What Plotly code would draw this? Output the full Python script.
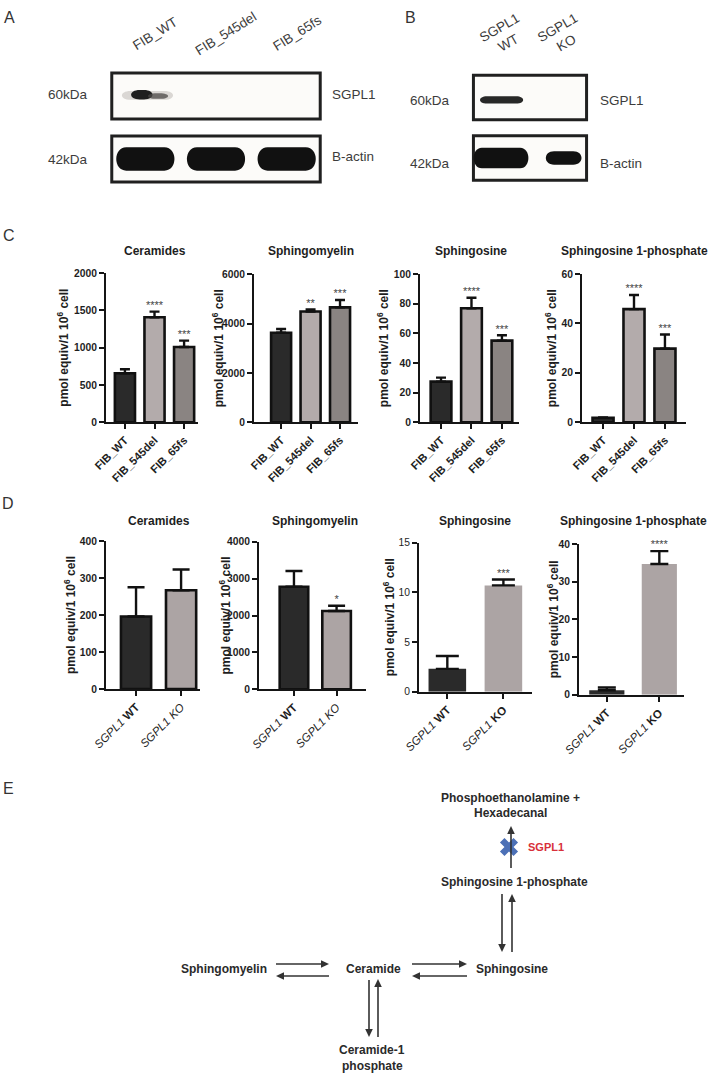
import plotly.graph_objects as go

W, H = 716, 1074

# ------------------------------------------------------------------ data
fib_lines = ["FIB_WT", "FIB_545del", "FIB_65fs"]
ko_lines = ["SGPL1 WT", "SGPL1 KO"]
lipids = ["Ceramides", "Sphingomyelin", "Sphingosine", "Sphingosine 1-phosphate"]

fib_ceramides = [657, 1407, 1009]
fib_ceramides_sem = [53, 76, 85]
fib_sphingomyelin = [3630, 4490, 4660]
fib_sphingomyelin_sem = [150, 90, 300]
fib_sphingosine = [27.4, 76.9, 55.1]
fib_sphingosine_sem = [2.7, 7.1, 3.6]
fib_s1p = [1.8, 45.8, 29.8]
fib_s1p_sem = [0.2, 5.7, 5.7]
fib_sig = [["", "****", "***"], ["", "**", "***"], ["", "****", "***"], ["", "****", "***"]]

ko_ceramides = [196, 267]
ko_ceramides_sem = [79, 56]
ko_sphingomyelin = [2780, 2120]
ko_sphingomyelin_sem = [425, 145]
ko_sphingosine = [2.3, 10.7]
ko_sphingosine_sem = [1.3, 0.6]
ko_s1p = [1.2, 34.7]
ko_s1p_sem = [0.7, 3.4]
ko_sig = [["", ""], ["", "*"], ["", "***"], ["", "****"]]

fib_ymax = [2000, 6000, 100, 60]
fib_dtick = [500, 2000, 20, 20]
ko_ymax = [400, 4000, 15, 40]
ko_dtick = [100, 1000, 5, 10]

blot_a_lanes = ["FIB_WT", "FIB_545del", "FIB_65fs"]
blot_a_sgpl1 = [1.0, 0.0, 0.0]
blot_a_actin = [1.0, 1.0, 1.0]
blot_b_lanes = ["SGPL1<br>WT", "SGPL1<br>KO"]
blot_b_sgpl1 = [1.0, 0.0]
blot_b_actin = [1.0, 0.65]

# ------------------------------------------------------------------ styles / layout geometry
FONT = "Liberation Sans, Arial, sans-serif"
INK = "#1e1e1e"
fib_colors = ["#2a2a2a", "#b3abab", "#8a8482"]
ko_colors = ["#2a2a2a", "#aca4a4"]


def sfx(i):
    return "" if i == 1 else str(i)


def dx(a, b):
    return [a / W, b / W]


def dy(top, bottom):
    return [1 - bottom / H, 1 - top / H]


# (x-left px, x-right px, y-top px, y-bottom px, x-range, ytitle-x px, title-y px)
c_geom = [
    (106, 198, 273, 422.3, (-0.64, 2.47), 63, 251),
    (254, 358, 274.3, 422.3, (-0.92, 2.61), 218, 251),
    (420, 519, 274, 422.3, (-0.69, 2.56), 383, 251),
    (582, 686, 274, 422.3, (-0.68, 2.68), 551, 251),
]
d_geom = [
    (106, 200, 541, 689, (-0.667, 1.42), 70, 521),
    (259, 366, 541.7, 689.3, (-0.82, 1.69), 224, 521),
    (419, 532, 542.7, 691.7, (-0.505, 1.51), 389, 521),
    (579, 684, 544, 694.7, (-0.53, 1.47), 553, 521),
]

ko_ticktext = [
    ["<i>SGPL1</i> <b>WT</b>", "<i>SGPL1 KO</i>"],
    ["<i>SGPL1</i> <b>WT</b>", "<i>SGPL1 KO</i>"],
    ["<i>SGPL1</i> <b>WT</b>", "<i>SGPL1</i> <b>KO</b>"],
    ["<i>SGPL1</i> <b>WT</b>", "<i>SGPL1</i> <b>KO</b>"],
]

panels = []
fib_vals = [fib_ceramides, fib_sphingomyelin, fib_sphingosine, fib_s1p]
fib_sems = [fib_ceramides_sem, fib_sphingomyelin_sem, fib_sphingosine_sem, fib_s1p_sem]
for k in range(4):
    panels.append(dict(vals=fib_vals[k], sem=fib_sems[k], sig=fib_sig[k], title=lipids[k],
                       ticktext=fib_lines, colors=fib_colors, ymax=fib_ymax[k], dtick=fib_dtick[k],
                       geom=c_geom[k], bw=0.68, lw=2.6, cap=5, xbold=True, ybold=True, xsize=11.2))
ko_vals = [ko_ceramides, ko_sphingomyelin, ko_sphingosine, ko_s1p]
ko_sems = [ko_ceramides_sem, ko_sphingomyelin_sem, ko_sphingosine_sem, ko_s1p_sem]
ko_caps = [8.5, 8.5, 11.5, 9]
for k in range(4):
    panels.append(dict(vals=ko_vals[k], sem=ko_sems[k], sig=ko_sig[k], title=lipids[k],
                       ticktext=ko_ticktext[k], colors=ko_colors, ymax=ko_ymax[k], dtick=ko_dtick[k],
                       geom=d_geom[k], bw=0.67, lw=2.6 if k < 2 else 0, cap=ko_caps[k],
                       xbold=False, ybold=(k != 2), xsize=11.5))

fig = go.Figure()
annotations = []
shapes = []
layout = dict(template="none", width=W, height=H, autosize=False,
              margin=dict(l=0, r=0, t=0, b=0, pad=0),
              paper_bgcolor="white", plot_bgcolor="rgba(0,0,0,0)",
              showlegend=False, font=dict(family=FONT, color=INK))

OV = "11"  # overlay pixel axis id
for i, p in enumerate(panels, start=1):
    s = sfx(i)
    x0, x1, yt, yb, xr, ytx, tty = p["geom"]
    n = len(p["vals"])
    xs = list(range(n))
    fig.add_trace(go.Bar(
        x=xs, y=p["vals"], width=p["bw"],
        marker=dict(color=p["colors"], line=dict(color="#111111", width=p["lw"])),
        error_y=dict(type="data", symmetric=False, array=p["sem"], arrayminus=[0] * n,
                     color="#111111", thickness=2.4, width=p["cap"]),
        xaxis="x" + s, yaxis="y" + s, hoverinfo="skip"))
    sx = [x for x, t in zip(xs, p["sig"]) if t]
    sy = [v + e for v, e, t in zip(p["vals"], p["sem"], p["sig"]) if t]
    st = [t for t in p["sig"] if t]
    if st:
        fig.add_trace(go.Scatter(
            x=sx, y=sy, mode="text", text=st,
            textposition="top center", textfont=dict(size=11, color="#444444", family=FONT),
            cliponaxis=False, xaxis="x" + s, yaxis="y" + s, hoverinfo="skip"))
    axcommon = dict(showline=True, linewidth=2, linecolor="#151515", ticks="outside",
                    ticklen=5, tickwidth=2, tickcolor="#151515", showgrid=False,
                    zeroline=False, fixedrange=True, automargin=False)
    layout["xaxis" + s] = dict(domain=dx(x0, x1), range=list(xr), anchor="y" + s,
                               tickmode="array", tickvals=xs, ticktext=p["ticktext"],
                               tickangle=-45,
                               tickfont=dict(size=p["xsize"], family=FONT, color=INK,
                                             weight="bold" if p["xbold"] else "normal"),
                               **axcommon)
    layout["yaxis" + s] = dict(domain=dy(yt, yb), range=[0, p["ymax"]], anchor="x" + s,
                               tickmode="linear", tick0=0, dtick=p["dtick"],
                               tickfont=dict(size=10.3, family=FONT, color=INK,
                                             weight="bold" if p["ybold"] else "normal"),
                               **axcommon)
    annotations.append(dict(text=f"<b>{p['title']}</b>", xref="x" + s, x=(n - 1) / 2,
                            yref="y" + OV, y=tty, showarrow=False,
                            font=dict(size=12, family=FONT, color=INK)))
    annotations.append(dict(text="<b>pmol equiv/1 10<sup>6</sup> cell</b>", textangle=-90,
                            xref="x" + OV, x=ytx, yref="y" + s + " domain", y=0.5,
                            showarrow=False, font=dict(size=12, family=FONT, color=INK)))

# ------------------------------------------------------------------ western blots (A: axis 9, B: axis 10)
hidden = dict(visible=False, fixedrange=True, automargin=False, showgrid=False, zeroline=False)
layout["xaxis9"] = dict(domain=dx(104, 328), range=[-0.085, 3.085], anchor="y9", **hidden)
layout["yaxis9"] = dict(domain=dy(66, 188), range=[-0.460, 1.476], anchor="x9", **hidden)
layout["xaxis10"] = dict(domain=dx(466, 594), range=[-0.103, 2.103], anchor="y10", **hidden)
layout["yaxis10"] = dict(domain=dy(69, 187), range=[-0.479, 1.471], anchor="x10", **hidden)


def stadium(xc, yc, hw, hh, rx):
    xa, xb, ya, yb_ = xc - hw, xc + hw, yc - hh, yc + hh
    k = 0.35 * rx
    return (f"M{xa + rx},{ya} L{xb - rx},{ya} C{xb + k},{ya} {xb + k},{yb_} {xb - rx},{yb_} "
            f"L{xa + rx},{yb_} C{xa - k},{yb_} {xa - k},{ya} {xa + rx},{ya} Z")


def blot(ax, nl, sg, ac, box_h, act_hw, act_hh, sg_style):
    xr, yr = f"x{ax}", f"y{ax}"
    for row in (0, 1):
        shapes.append(dict(type="rect", xref=xr, yref=yr, x0=0.025, x1=nl - 0.025,
                           y0=row - box_h, y1=row + box_h, fillcolor="#fcfbf9",
                           line=dict(color="#202020", width=3), layer="below"))
    for lane, inten in enumerate(ac):
        if inten > 0:
            shapes.append(dict(type="path", xref=xr, yref=yr,
                               path=stadium(lane + 0.5 + (0.08 if inten < 1 else 0), 0,
                                            act_hw * inten, act_hh * inten, 0.14),
                               fillcolor="#111111", line=dict(width=0)))
    for lane, inten in enumerate(sg):
        if inten > 0.5:
            for (cx, hw, cy, hh, col, op) in sg_style:
                shapes.append(dict(type="path", xref=xr, yref=yr,
                                   path=stadium(lane + cx, cy, hw, hh, min(hw, 0.12)),
                                   fillcolor=col, opacity=op, line=dict(width=0)))


blot(9, len(blot_a_lanes), blot_a_sgpl1, blot_a_actin, 0.365, 0.41, 0.185,
     [(0.53, 0.36, 1.01, 0.07, "#9a9590", 0.35),
      (0.45, 0.15, 1.02, 0.075, "#151515", 0.95),
      (0.68, 0.14, 1.0, 0.045, "#4a4746", 0.75)])
blot(10, len(blot_b_lanes), blot_b_sgpl1, blot_b_actin, 0.368, 0.47, 0.17,
     [(0.51, 0.37, 0.96, 0.06, "#1c1c1c", 0.95)])

blot_font = dict(size=13.5, family=FONT, color="#3c3c3c")
for j, lab in enumerate(blot_a_lanes):
    annotations.append(dict(text=lab, xref="x9", x=j + 0.64, yref="y" + OV, y=33,
                            textangle=-32, showarrow=False, font=blot_font))
for j, lab in enumerate(blot_b_lanes):
    annotations.append(dict(text=lab, xref="x10", x=j + 0.55, yref="y" + OV, y=35,
                            textangle=-30, showarrow=False, font=blot_font, align="center"))
for (txt, x, y, anchor) in [("60kDa", 68, 94, "center"), ("42kDa", 68, 159, "center"),
                            ("SGPL1", 330, 94, "left"), ("B-actin", 330, 156, "left"),
                            ("60kDa", 430, 100, "center"), ("42kDa", 430, 163, "center"),
                            ("SGPL1", 598, 100, "left"), ("B-actin", 598, 163, "left")]:
    annotations.append(dict(text=txt, xref="x" + OV, yref="y" + OV, x=x, y=y, xanchor=anchor,
                            showarrow=False, font=blot_font))

# ------------------------------------------------------------------ panel letters
for (txt, x, y) in [("A", 9, 17), ("B", 410, 17), ("C", 9, 235), ("D", 8, 503), ("E", 8, 788)]:
    annotations.append(dict(text=txt, xref="x" + OV, yref="y" + OV, x=x, y=y, showarrow=False,
                            font=dict(size=16, family=FONT, color="#333333")))

# ------------------------------------------------------------------ pathway diagram (E)
layout["xaxis" + OV] = dict(domain=[0, 1], range=[0, W], anchor="y" + OV, **hidden)
layout["yaxis" + OV] = dict(domain=[0, 1], range=[H, 0], anchor="x" + OV, **hidden)

diag_font = dict(size=12, family=FONT, color="#2a2a2a", weight="bold")
for (txt, x, y) in [("Phosphoethanolamine +", 510, 798), ("Hexadecanal", 510, 813),
                    ("Sphingosine 1-phosphate", 514, 882), ("Sphingomyelin", 224, 969),
                    ("Ceramide", 373, 969), ("Sphingosine", 512, 969),
                    ("Ceramide-1", 372, 1050), ("phosphate", 372, 1066)]:
    annotations.append(dict(text=txt, xref="x" + OV, yref="y" + OV, x=x, y=y, showarrow=False,
                            font=diag_font))
annotations.append(dict(text="SGPL1", xref="x" + OV, yref="y" + OV, x=546, y=847, showarrow=False,
                        font=dict(size=11, family=FONT, color="#d8303a", weight="bold")))

AH, AW = 8, 3.8  # arrowhead length / half-width (px)
for (tx, ty, hx, hy) in [(276, 964, 329, 964), (329, 976, 276, 976),
                         (412, 964, 467, 964), (467, 976, 412, 976),
                         (369, 980, 369, 1037), (378, 1037, 378, 979),
                         (512, 952, 512, 894), (502, 894, 502, 952),
                         (511, 868, 511, 826)]:
    L = ((hx - tx) ** 2 + (hy - ty) ** 2) ** 0.5
    ux, uy = (hx - tx) / L, (hy - ty) / L
    bx, by = hx - ux * AH, hy - uy * AH
    shapes.append(dict(type="line", xref="x" + OV, yref="y" + OV, x0=tx, y0=ty, x1=bx, y1=by,
                       line=dict(color="#333333", width=1.6)))
    shapes.append(dict(type="path", xref="x" + OV, yref="y" + OV,
                       path=f"M{hx},{hy} L{bx - uy * AW},{by + ux * AW} L{bx + uy * AW},{by - ux * AW} Z",
                       fillcolor="#333333", line=dict(width=0)))

fig.add_trace(go.Scatter(x=[509], y=[847], mode="markers", xaxis="x" + OV, yaxis="y" + OV,
                         marker=dict(symbol="x", size=16, color="#4c70b6", line=dict(width=0)),
                         hoverinfo="skip", cliponaxis=False))

layout["annotations"] = annotations
layout["shapes"] = shapes
fig.update_layout(**layout)
fig.write_html("out.html", config={"displayModeBar": False, "responsive": False},
               post_script="document.body.style.margin='0';document.body.style.overflow='hidden';")
